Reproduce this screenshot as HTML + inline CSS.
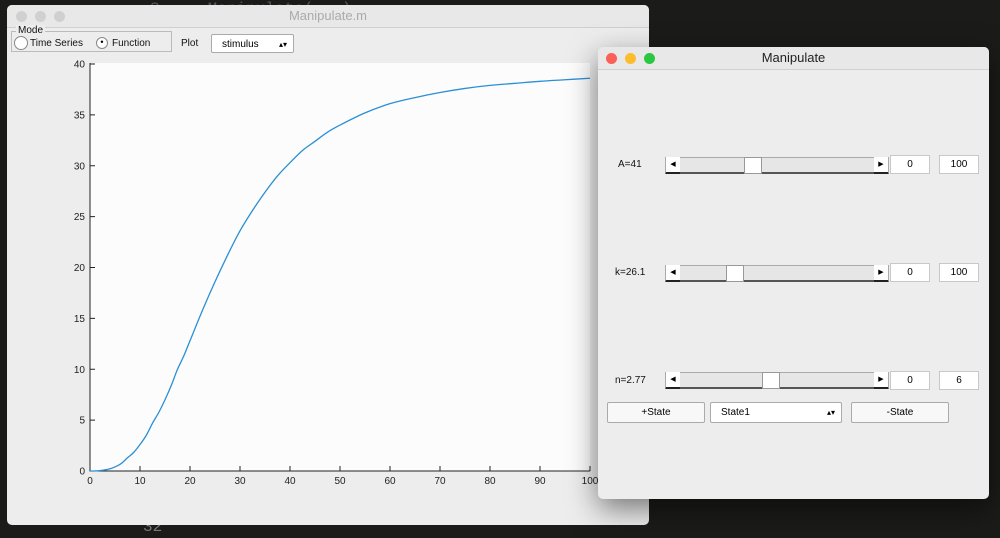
<!DOCTYPE html>
<html><head><meta charset="utf-8"><style>
body{margin:0;width:1000px;height:538px;background:#1b1b19;position:relative;overflow:hidden;font-family:"Liberation Sans",sans-serif;}
.abs{position:absolute}
.win{background:#ededed;border-radius:5px;}
.tb{position:absolute;left:0;right:0;top:0;height:22px;border-bottom:1px solid #d0d0d0;text-align:center;font-size:13px;line-height:22px;border-radius:5px 5px 0 0;background:#e8e8e8}
.dot{position:absolute;top:6px;width:11px;height:11px;border-radius:50%}
.f{font-size:10px;color:#111}
.box{position:absolute;background:#fff;border:1px solid #c8c8c8;font-size:10px;text-align:center;line-height:17px}
.sl{position:absolute;height:14px;background:#e6e6e6;border:1px solid #aaa;border-bottom:2px solid #555}
.ar{position:absolute;top:-1px;width:14px;height:15px;background:#fff;border-bottom:2px solid #222;font-size:7px;line-height:15px;text-align:center}
.btn{position:absolute;background:#f8f8f8;border:1px solid #aaa;font-size:10px;text-align:center;line-height:19px;border-radius:2px}
</style></head><body>
<div class="abs" style="left:150px;top:0;color:#555;font:16px 'Liberation Mono',monospace">S . . Manipulate(...)</div>
<div class="abs" style="left:143px;top:518px;color:#777;font:16px 'Liberation Mono',monospace">32</div>

<div class="abs win" style="left:7px;top:5px;width:642px;height:520px">
 <div class="tb" style="color:#aaa">Manipulate.m
  <div class="dot" style="left:9px;background:#d0d0d0"></div><div class="dot" style="left:28px;background:#d0d0d0"></div><div class="dot" style="left:47px;background:#d0d0d0"></div></div>
 <div class="abs" style="left:4px;top:26px;width:159px;height:19px;border:1px solid #bbb">
  <span class="abs f" style="left:4px;top:-7px;background:#ededed;padding:0 2px">Mode</span>
  <span class="abs" style="left:2px;top:4px;width:12px;height:12px;border:1px solid #888;border-radius:50%;background:#fff"></span>
  <span class="abs f" style="left:18px;top:6px">Time Series</span>
  <span class="abs" style="left:84px;top:5px;width:10px;height:10px;border:1px solid #888;border-radius:50%;background:#fff;text-align:center;font-size:9px;line-height:9px">•</span>
  <span class="abs f" style="left:100px;top:6px">Function</span>
 </div>
 <span class="abs f" style="left:174px;top:33px">Plot</span>
 <div class="btn" style="left:204px;top:29px;width:83px;height:19px;text-align:left;padding-left:10px;box-sizing:border-box;background:#fff">stimulus<span style="position:absolute;right:6px;font-size:8px">▴▾</span></div>
</div>

<svg class="abs" style="left:0;top:0" width="650" height="538">
 <rect x="90" y="63" width="500" height="408" fill="#fcfcfc"/>
 <g id="axes" font-size="10" fill="#222" font-family="Liberation Sans, sans-serif"></g>
 <path id="curve" fill="none" stroke="#2a8fd6" stroke-width="1.3" stroke-linejoin="round"/>
</svg>

<div class="abs win" style="left:598px;top:47px;width:391px;height:452px;box-shadow:0 10px 30px rgba(0,0,0,.5)">
 <div class="tb" style="color:#222">Manipulate
  <div class="dot" style="left:8px;background:#fc5f57"></div><div class="dot" style="left:27px;background:#fdbc2e"></div><div class="dot" style="left:46px;background:#29c840"></div></div>
 <span class="abs f" style="left:20px;top:112px">A=41</span>
 <div class="sl" style="left:67px;top:110px;width:222px"><span class="ar" style="left:0">◀</span><span class="ar" style="right:0">▶</span><span class="abs" style="left:78px;top:-1px;width:16px;height:15px;background:#fff;border:1px solid #999"></span></div>
 <div class="box" style="left:292px;top:108px;width:38px">0</div>
 <div class="box" style="left:341px;top:108px;width:38px">100</div>
 <span class="abs f" style="left:17px;top:220px">k=26.1</span>
 <div class="sl" style="left:67px;top:218px;width:222px"><span class="ar" style="left:0">◀</span><span class="ar" style="right:0">▶</span><span class="abs" style="left:60px;top:-1px;width:16px;height:15px;background:#fff;border:1px solid #999"></span></div>
 <div class="box" style="left:292px;top:216px;width:38px">0</div>
 <div class="box" style="left:341px;top:216px;width:38px">100</div>
 <span class="abs f" style="left:17px;top:328px">n=2.77</span>
 <div class="sl" style="left:67px;top:325px;width:222px"><span class="ar" style="left:0">◀</span><span class="ar" style="right:0">▶</span><span class="abs" style="left:96px;top:-1px;width:16px;height:15px;background:#fff;border:1px solid #999"></span></div>
 <div class="box" style="left:292px;top:324px;width:38px">0</div>
 <div class="box" style="left:341px;top:324px;width:38px">6</div>
 <div class="btn" style="left:9px;top:355px;width:96px">+State</div>
 <div class="btn" style="left:112px;top:355px;width:132px;text-align:left;padding-left:10px;box-sizing:border-box;background:#fff">State1<span style="position:absolute;right:6px;font-size:8px">▴▾</span></div>
 <div class="btn" style="left:253px;top:355px;width:96px">-State</div>
</div>

<script>
const xTicks=[0,10,20,30,40,50,60,70,80,90,100];
const yTicks=[0,5,10,15,20,25,30,35,40];
const xs=[0,1.25,2.5,3.75,5,6.25,7.5,8.75,10,11.25,12.5,13.75,15,16.25,17.5,18.75,20,22.5,25,27.5,30,32.5,35,37.5,40,42.5,45,47.5,50,55,60,65,70,75,80,85,90,95,100];
const ys=[0,0.01,0.07,0.18,0.4,0.74,1.3,1.83,2.6,3.5,4.7,5.75,7.0,8.4,10.0,11.3,12.8,15.8,18.6,21.2,23.6,25.6,27.4,29.0,30.3,31.5,32.4,33.3,34.0,35.2,36.1,36.7,37.2,37.6,37.9,38.1,38.3,38.45,38.6];
const X=v=>90+v*5, Y=v=>471-v*10.175;
const g=document.getElementById('axes');
const NS='http://www.w3.org/2000/svg';
function el(t,a){const e=document.createElementNS(NS,t);for(const k in a)e.setAttribute(k,a[k]);g.appendChild(e);return e;}
let ax=el('path',{d:`M90,63 V471 H590`,stroke:'#222',fill:'none'});


xTicks.forEach(t=>{el('line',{x1:X(t),x2:X(t),y1:471,y2:466,stroke:'#222'});
 const tx=el('text',{x:X(t),y:484,'text-anchor':'middle'});tx.textContent=t;
 
 });
yTicks.forEach(t=>{el('line',{x1:90,x2:95,y1:Y(t),y2:Y(t),stroke:'#222'});
 const tx=el('text',{x:85,y:Y(t)+3.5,'text-anchor':'end'});tx.textContent=t;
 
 });
const P=xs.map((x,i)=>[X(x),Y(ys[i])]);
let d='M'+P[0].join(',');
for(let i=0;i<P.length-1;i++){const p0=P[Math.max(i-1,0)],p1=P[i],p2=P[i+1],p3=P[Math.min(i+2,P.length-1)];
 d+=` C${p1[0]+(p2[0]-p0[0])/6},${p1[1]+(p2[1]-p0[1])/6} ${p2[0]-(p3[0]-p1[0])/6},${p2[1]-(p3[1]-p1[1])/6} ${p2[0]},${p2[1]}`;}
document.getElementById('curve').setAttribute('d',d);
</script>
</body></html>
